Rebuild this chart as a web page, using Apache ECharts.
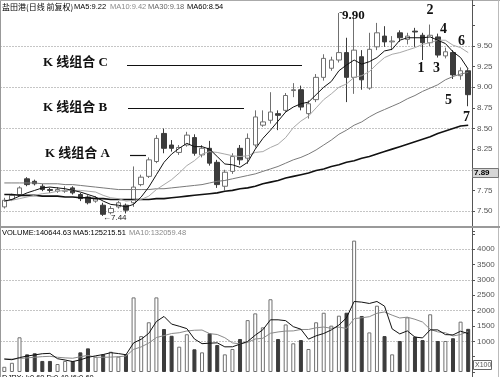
<!DOCTYPE html>
<html><head><meta charset="utf-8">
<script src="https://cdn.jsdelivr.net/npm/echarts@6/dist/echarts.min.js"></script>
<style>html,body{margin:0;padding:0;background:#fff}#c{width:500px;height:377px}</style>
</head><body><div id="c"></div>
<script>
// ---- data ----
const opens = [7.55,7.64,7.70,7.89,7.86,7.80,7.76,7.74,7.74,7.78,
  7.70,7.67,7.62,7.57,7.48,7.55,7.57,7.60,7.82,7.92,
  8.10,8.44,8.30,8.21,8.30,8.39,8.18,8.26,8.09,7.80,
  7.98,8.26,8.14,8.30,8.54,8.60,8.68,8.72,8.96,8.97,
  8.68,8.85,9.12,9.23,9.33,9.42,9.12,9.37,8.99,9.49,
  9.62,9.55,9.66,9.58,9.68,9.63,9.54,9.61,9.38,9.42,
  9.14,9.20];
const closes = [7.63,7.69,7.78,7.82,7.83,7.76,7.75,7.76,7.75,7.72,
  7.65,7.60,7.65,7.46,7.53,7.60,7.51,7.79,7.91,8.12,
  8.38,8.26,8.26,8.27,8.42,8.20,8.26,8.08,7.82,7.97,
  8.16,8.12,8.38,8.64,8.58,8.70,8.66,8.90,8.97,8.76,
  8.80,9.12,9.35,9.33,9.42,9.12,9.45,9.09,9.46,9.66,
  9.55,9.56,9.60,9.62,9.67,9.54,9.63,9.39,9.43,9.15,
  9.20,8.91];
const lows = [7.53,7.62,7.68,7.80,7.81,7.74,7.72,7.72,7.72,7.70,
  7.62,7.58,7.60,7.44,7.46,7.53,7.47,7.55,7.80,7.90,
  8.08,8.20,8.22,8.18,8.28,8.17,8.15,8.05,7.78,7.75,
  7.95,8.06,8.07,8.27,8.52,8.56,8.48,8.70,8.88,8.72,
  8.62,8.82,9.08,9.20,9.30,8.82,8.92,8.97,8.97,9.45,
  9.49,9.45,9.55,9.52,9.49,9.33,9.50,9.36,9.35,9.10,
  9.09,8.77];
const highs = [7.66,7.71,7.80,7.91,7.88,7.83,7.78,7.79,7.80,7.80,
  7.72,7.69,7.68,7.60,7.56,7.62,7.59,8.04,7.94,8.15,
  8.42,8.50,8.36,8.30,8.46,8.43,8.30,8.35,8.12,8.00,
  8.20,8.30,8.44,8.72,8.72,8.94,8.72,8.93,9.05,9.02,
  8.84,9.16,9.40,9.37,9.90,9.60,9.87,9.45,9.66,9.78,
  9.74,9.62,9.69,9.66,9.72,9.66,9.76,9.65,9.48,9.45,
  9.24,9.22];
const ma5 = [7.62,7.64,7.68,7.72,7.75,7.78,7.79,7.78,7.77,7.75,
  7.73,7.70,7.67,7.62,7.58,7.57,7.55,7.58,7.67,7.79,
  7.94,8.09,8.19,8.26,8.32,8.28,8.28,8.25,8.16,8.07,
  8.06,8.03,8.09,8.25,8.38,8.48,8.59,8.70,8.76,8.80,
  8.82,8.91,9.00,9.07,9.20,9.27,9.33,9.28,9.31,9.36,
  9.44,9.46,9.57,9.60,9.60,9.60,9.61,9.57,9.53,9.43,
  9.36,9.22];
const ma10 = [7.62,7.63,7.65,7.67,7.69,7.71,7.72,7.74,7.75,7.75,
  7.75,7.74,7.73,7.69,7.66,7.65,7.62,7.63,7.64,7.68,
  7.76,7.82,7.88,7.96,8.05,8.11,8.19,8.22,8.21,8.19,
  8.17,8.16,8.17,8.21,8.22,8.27,8.31,8.39,8.51,8.59,
  8.65,8.75,8.85,8.92,9.00,9.04,9.12,9.14,9.19,9.28,
  9.36,9.40,9.42,9.45,9.48,9.52,9.54,9.57,9.57,9.51,
  9.48,9.42];
const ma30 = [7.84,7.84,7.84,7.84,7.84,7.83,7.83,7.83,7.82,7.82,
  7.81,7.80,7.79,7.78,7.77,7.76,7.76,7.76,7.76,7.76,
  7.77,7.77,7.78,7.79,7.80,7.81,7.82,7.84,7.86,7.87,
  7.89,7.91,7.93,7.95,7.98,8.01,8.04,8.08,8.12,8.15,
  8.19,8.24,8.30,8.36,8.43,8.48,8.54,8.58,8.64,8.69,
  8.73,8.77,8.81,8.86,8.90,8.95,8.99,9.03,9.09,9.13,
  9.16,9.18];
const ma60 = [7.70,7.70,7.69,7.69,7.69,7.68,7.68,7.68,7.67,7.67,
  7.66,7.66,7.65,7.65,7.64,7.64,7.64,7.64,7.64,7.64,
  7.65,7.65,7.66,7.67,7.68,7.69,7.70,7.71,7.72,7.74,
  7.75,7.77,7.78,7.80,7.83,7.85,7.87,7.90,7.92,7.94,
  7.96,7.99,8.01,8.04,8.06,8.09,8.11,8.14,8.16,8.19,
  8.22,8.25,8.28,8.31,8.34,8.37,8.40,8.44,8.47,8.50,
  8.53,8.54];
const volumes = [170,300,1130,575,610,360,360,260,360,360,
  640,770,500,575,660,500,575,2430,1170,1620,
  2430,1400,1180,825,1230,740,640,1260,880,575,
  750,1075,1690,1910,1455,2370,1075,1550,935,1040,
  750,1620,1930,1510,1835,1930,4280,1825,1290,2160,
  1170,575,1010,1780,1150,1040,1880,1010,1010,1100,
  1640,1406];
const vma5 = [420,400,470,520,557,595,607,433,390,340,
  396,478,526,569,629,601,562,948,1067,1259,
  1645,1810,1560,1491,1413,1075,923,939,950,819,
  821,908,994,1200,1376,1700,1700,1672,1477,1394,
  1070,1179,1255,1370,1529,1765,2297,2276,2232,2297,
  2145,1404,1241,1339,1137,1111,1372,1372,1218,1208,
  1328,1252];
const vma10 = [430,420,440,460,480,500,510,480,460,448,
  496,543,480,480,485,499,520,737,818,944,
  1123,1186,1254,1279,1336,1360,1367,1250,1221,1116,
  948,916,967,1075,1098,1261,1304,1333,1339,1385,
  1385,1440,1464,1424,1462,1418,1738,1766,1801,1913,
  1955,1851,1759,1786,1717,1628,1388,1307,1279,1173,
  1220,1321];
const days = opens.map((_, i) => String(i + 1));
const priceTickHidden = [7.25, 8.0, 9.75, 10.0];
const volTickShown = [1000, 1500, 2000, 2500, 3000, 3500, 4000];

// ---- chart ----
const chart = echarts.init(document.getElementById('c'), null, {renderer: 'canvas'});
const sans = '"Liberation Sans", Arial, sans-serif';
const serif = '"Liberation Serif", "Noto Sans CJK SC", serif';
const upStyle = {color: '#fff', borderColor: '#707070', borderWidth: 1};
const downStyle = {color: '#3c3c3c', borderColor: '#3c3c3c', borderWidth: 1};

function txt(text, x, y, font, fill, align) {
  return {type: 'text', silent: true, z: 50, style: {text, x, y, font, fill: fill || '#000',
    textAlign: align || 'left', textVerticalAlign: 'middle'}};
}
function ln(x1, y1, x2, y2, stroke, w) {
  return {type: 'line', silent: true, z: 40, shape: {x1, y1, x2, y2}, style: {stroke, lineWidth: w || 1}};
}

const hiddenAxisSplit = (min, max, interval, gi) => ({
  type: 'value', gridIndex: gi, min, max, interval, position: 'right',
  axisLine: {show: false}, axisTick: {show: false}, axisLabel: {show: false},
  splitLine: {show: true, lineStyle: {color: '#8a8a8a', type: [1, 2], width: 1}}
});

chart.setOption({
  animation: false,
  backgroundColor: '#fff',
  grid: [
    {left: 0.5, right: 28, top: 4.75, height: 226.875},
    {left: 0.5, right: 28, top: 233.85, height: 138.15},
    {left: 0.5, right: 28, top: 46, height: 165},
    {left: 0.5, right: 28, top: 249.2, height: 92.1}
  ],
  xAxis: [
    {type: 'category', gridIndex: 0, data: days, show: false, boundaryGap: true},
    {type: 'category', gridIndex: 1, data: days, show: false, boundaryGap: true},
    {type: 'value', gridIndex: 2, show: false, min: 0, max: 1},
    {type: 'value', gridIndex: 3, show: false, min: 0, max: 1}
  ],
  yAxis: [
    {type: 'value', gridIndex: 0, position: 'right', min: 7.25, max: 10, interval: 0.25,
      axisLine: {show: false}, splitLine: {show: false},
      axisTick: {show: true, length: 3, lineStyle: {color: '#555'}},
      axisLabel: {margin: 5, fontSize: 8, color: '#555', fontFamily: sans,
        formatter: v => priceTickHidden.some(h => Math.abs(h - v) < 1e-6) ? '' : v.toFixed(2)}},
    {type: 'value', gridIndex: 1, position: 'right', min: 0, max: 4500, interval: 500,
      axisLine: {show: false}, splitLine: {show: false},
      axisTick: {show: true, length: 3, lineStyle: {color: '#555'}},
      axisLabel: {margin: 5, fontSize: 8, color: '#555', fontFamily: sans,
        formatter: v => volTickShown.indexOf(Math.round(v)) >= 0 ? String(Math.round(v)) : ''}},
    hiddenAxisSplit(7.5, 9.5, 0.5, 2),
    hiddenAxisSplit(1000, 4000, 1000, 3)
  ],
  series: [
    {type: 'candlestick', xAxisIndex: 0, yAxisIndex: 0, barWidth: 5,
      data: opens.map((o, i) => [o, closes[i], lows[i], highs[i]]),
      itemStyle: {color: '#fff', color0: '#3c3c3c', borderColor: '#707070', borderColor0: '#3c3c3c', borderWidth: 1}},
    {type: 'line', name: 'MA60', xAxisIndex: 0, yAxisIndex: 0, data: ma60, symbol: 'none',
      lineStyle: {color: '#111', width: 1.6}},
    {type: 'line', name: 'MA30', xAxisIndex: 0, yAxisIndex: 0, data: ma30, symbol: 'none',
      lineStyle: {color: '#7a7a7a', width: 1}},
    {type: 'line', name: 'MA10', xAxisIndex: 0, yAxisIndex: 0, data: ma10, symbol: 'none',
      lineStyle: {color: '#a8a8a8', width: 1}},
    {type: 'line', name: 'MA5', xAxisIndex: 0, yAxisIndex: 0, data: ma5, symbol: 'none',
      lineStyle: {color: '#111', width: 1}},
    {type: 'bar', xAxisIndex: 1, yAxisIndex: 1, barWidth: 4,
      data: volumes.map((v, i) => ({value: v, itemStyle: closes[i] >= opens[i] ? upStyle : downStyle}))},
    {type: 'line', name: 'VMA10', xAxisIndex: 1, yAxisIndex: 1, data: vma10, symbol: 'none',
      lineStyle: {color: '#8a8a8a', width: 1}},
    {type: 'line', name: 'VMA5', xAxisIndex: 1, yAxisIndex: 1, data: vma5, symbol: 'none',
      lineStyle: {color: '#111', width: 1}}
  ],
  graphic: [
    // frame
    ln(0.5, 0, 0.5, 377, '#999'),
    ln(0, 0.5, 500, 0.5, '#aaa'),
    ln(472.5, 0, 472.5, 377, '#555'),
    ln(498.5, 0, 498.5, 377, '#bbb'),
    ln(0, 227, 500, 227, '#9a9a9a', 2),
    // headers
    txt('盐田港(日线 前复权)', 2, 7, '8px "Noto Sans CJK SC", sans-serif', '#000'),
    txt('MA5:9.22', 74, 7, '7.5px ' + sans, '#000'),
    txt('MA10:9.42', 110, 7, '7.5px ' + sans, '#8a8a8a'),
    txt('MA30:9.18', 148, 7, '7.5px ' + sans, '#666'),
    txt('MA60:8.54', 187, 7, '7.5px ' + sans, '#000'),
    txt('VOLUME:140644.63', 2, 232.5, '7.5px ' + sans, '#000'),
    txt('MA5:125215.51', 73, 232.5, '7.5px ' + sans, '#000'),
    txt('MA10:132059.48', 129, 232.5, '7.5px ' + sans, '#8a8a8a'),
    txt('DJRX: I:0.60 D:0.40 I6:0.60', 2, 378, '7.5px ' + sans, '#000'),
    // current price box
    {type: 'rect', silent: true, z: 45, shape: {x: 472.5, y: 168.5, width: 26, height: 9},
      style: {fill: '#d6d6d6', stroke: '#777', lineWidth: 1}},
    txt('7.89', 474, 173, 'bold 8px ' + sans, '#000'),
    // X100 box
    {type: 'rect', silent: true, z: 45, shape: {x: 473.5, y: 360.5, width: 18, height: 9},
      style: {fill: '#fff', stroke: '#666', lineWidth: 1}},
    txt('X100', 475, 365, '7px ' + sans, '#555'),
    // annotations
    txt('K 线组合 C', 43, 63, 'bold 13px ' + serif, '#111'),
    txt('K 线组合 B', 43, 107.5, 'bold 13px ' + serif, '#111'),
    txt('K 线组合 A', 45, 154, 'bold 13px ' + serif, '#111'),
    ln(127, 65.5, 302, 65.5, '#111', 1.2),
    ln(128, 108.5, 244, 108.5, '#111', 1.2),
    ln(130, 155.5, 146, 155.5, '#111', 1.2),
    txt('9.90', 342, 16, 'bold 13px ' + serif, '#111'),
    ln(339.5, 12.5, 342, 12.5, '#555', 1),
    txt('←7.44', 103, 218, '8px ' + sans + ', "DejaVu Sans"', '#222'),
    txt('2', 430, 10, 'bold 14px ' + serif, '#111', 'center'),
    txt('4', 443.5, 29, 'bold 14px ' + serif, '#111', 'center'),
    txt('6', 461.5, 41, 'bold 14px ' + serif, '#111', 'center'),
    txt('1', 421, 68, 'bold 14px ' + serif, '#111', 'center'),
    txt('3', 436.5, 68, 'bold 14px ' + serif, '#111', 'center'),
    txt('5', 448.5, 100, 'bold 14px ' + serif, '#111', 'center'),
    txt('7', 466.5, 117, 'bold 14px ' + serif, '#111', 'center')
  ]
});
</script>
</body></html>
